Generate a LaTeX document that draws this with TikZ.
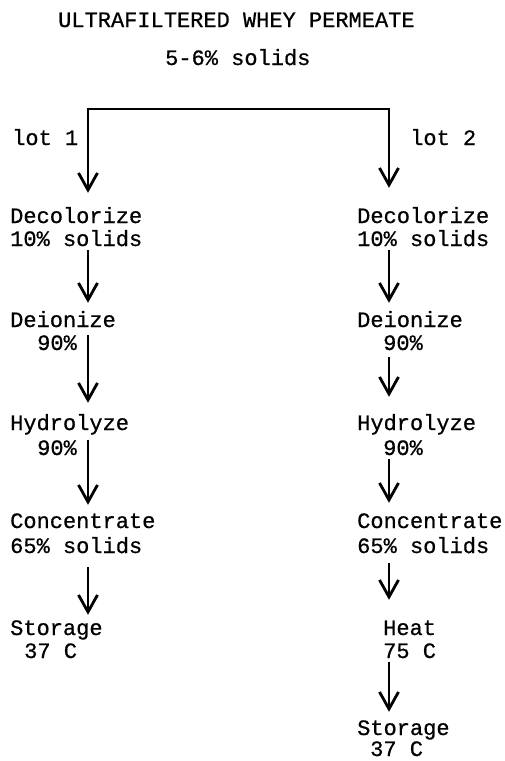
\documentclass[tikz,border=0pt]{standalone}
\usepackage{fontspec}
\newfontfamily\typewriter[FakeBold=0.7]{Liberation Mono}
\usetikzlibrary{arrows.meta, positioning}

\tikzset{
    txt/.style={anchor=base west, inner sep=0pt, text height=14pt, text depth=4pt,
                font=\typewriter\fontsize{22}{24}\selectfont},
    flow/.style={line width=2.8pt, -{Straight Barb[length=17pt, width=19pt]}},
}

\begin{document}
\begin{tikzpicture}[x=1pt, y=-1pt]
    \useasboundingbox (0,0) rectangle (504,761);

    % feed
    \node[txt] (feed) at (58,27) {ULTRAFILTERED WHEY PERMEATE};
    \node[txt] (solids) at (165,65) {5-6\% solids};
    \coordinate (split) at (238,109);
    \coordinate (lx) at (88,0);
    \coordinate (rx) at (389,0);

    \node[txt] (lot1) at (12,145) {lot 1};
    \node[txt] (lot2) at (410,145) {lot 2};

    % lot 1
    \node[txt] (dec1)  at (10,223) {Decolorize};
    \node[txt] (dec1v) at (10,246) {10\% solids};
    \node[txt] (dei1)  at (10,327) {Deionize};
    \node[txt] (dei1v) at (37,350) {90\%};
    \node[txt] (hyd1)  at (10,430) {Hydrolyze};
    \node[txt] (hyd1v) at (37,455) {90\%};
    \node[txt] (con1)  at (10,528) {Concentrate};
    \node[txt] (con1v) at (10,553) {65\% solids};
    \node[txt] (sto1)  at (10,635) {Storage};
    \node[txt] (sto1v) at (24,658) {37 C};

    % lot 2
    \node[txt] (dec2)  at (357,223) {Decolorize};
    \node[txt] (dec2v) at (357,246) {10\% solids};
    \node[txt] (dei2)  at (357,327) {Deionize};
    \node[txt] (dei2v) at (383,350) {90\%};
    \node[txt] (hyd2)  at (357,430) {Hydrolyze};
    \node[txt] (hyd2v) at (383,455) {90\%};
    \node[txt] (con2)  at (357,528) {Concentrate};
    \node[txt] (con2v) at (357,553) {65\% solids};
    \node[txt] (heat2)  at (383,635) {Heat};
    \node[txt] (heat2v) at (383,658) {75 C};
    \node[txt] (sto2)  at (357,735) {Storage};
    \node[txt, text depth=0pt] (sto2v) at (370,756) {37 C};

    % branches
    \draw[flow, line join=miter, shorten >=16pt] (split) -| (dec1.north -| lx);
    \draw[flow, line join=miter, shorten >=21pt] (split) -| (dec2.north -| rx);

    \draw[flow, shorten >=10pt] (dec1v.south -| lx) -- (dei1.north -| lx);
    \draw[flow, shorten <=4pt, shorten >=13pt] (dei1.south -| lx) -- (hyd1.north -| lx);
    \draw[flow, shorten <=6pt, shorten >=9pt] (hyd1.south -| lx) -- (con1.north -| lx);
    \draw[flow, shorten <=10pt, shorten >=6pt] (con1v.south -| lx) -- (sto1.north -| lx);

    \draw[flow, shorten >=10pt] (dec2v.south -| rx) -- (dei2.north -| rx);
    \draw[flow, shorten <=3pt, shorten >=19pt] (dei2v.south -| rx) -- (hyd2.north -| rx);
    \draw[flow, shorten >=11pt] (hyd2v.south -| rx) -- (con2.north -| rx);
    \draw[flow, shorten <=6pt, shorten >=21pt] (con2v.south -| rx) -- (heat2.north -| rx);
    \draw[flow, shorten >=9pt] (heat2v.south -| rx) -- (sto2.north -| rx);
\end{tikzpicture}
\end{document}
